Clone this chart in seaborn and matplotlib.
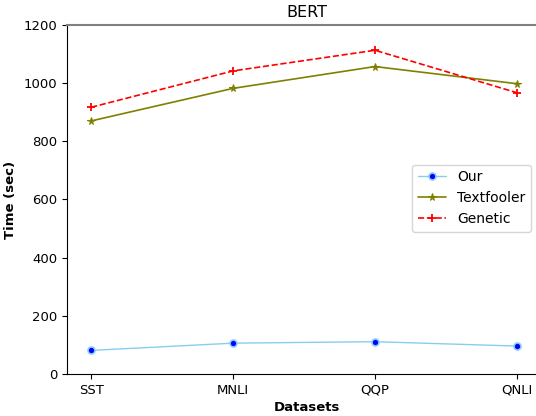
import pandas as pd
import matplotlib.pyplot as plt
import seaborn as sns

datasets = ['SST', 'MNLI', 'QQP', 'QNLI']
our = [81, 106, 111, 96]
textfooler = [870, 982, 1057, 998]
genetic = [917, 1042, 1113, 967]

sns.set_style('ticks', {'text.color': 'black', 'axes.labelcolor': 'black',
                        'xtick.color': 'black', 'ytick.color': 'black'})
plt.rcParams['font.family'] = ['DejaVu Sans']

fig = plt.figure(figsize=(5.36, 4.16), dpi=100)
ax = fig.add_axes([0.125, 0.101, 0.895, 0.839])

x = list(range(len(datasets)))
sns.lineplot(x=x, y=our, ax=ax, color='skyblue', marker='o', markersize=5,
             markerfacecolor='blue', markeredgecolor='lightskyblue',
             markeredgewidth=1.2, linewidth=1.0, label='Our')
sns.lineplot(x=x, y=textfooler, ax=ax, color='olive', marker='*', markersize=5.5,
             markeredgecolor='olive', linewidth=1.2, label='Textfooler')
sns.lineplot(x=x, y=genetic, ax=ax, color='red', marker='+', markersize=6,
             markeredgecolor='red', markeredgewidth=1.3,
             linestyle='--', linewidth=1.2, label='Genetic')

ax.set_xticks(x)
ax.set_xticklabels(datasets)
ax.set_xlim(-0.17, 3.21)
ax.set_ylim(0, 1200)
ax.set_yticks(range(0, 1201, 200))
ax.set_title('BERT', fontsize=11.5)
ax.set_xlabel('Datasets', fontweight='bold', fontsize=9.5, labelpad=3)
ax.set_ylabel('Time (sec)', fontweight='bold', fontsize=9.5, labelpad=5)
ax.tick_params(labelsize=9.5, color='black')
for s in ['left', 'bottom']:
    ax.spines[s].set_color('black')
ax.spines['top'].set_color('gray')
ax.spines['top'].set_linewidth(1.5)
ax.spines['right'].set_visible(False)

ax.legend(loc='center right', bbox_to_anchor=(0.99, 0.524),
          bbox_transform=fig.transFigure, borderaxespad=0, fontsize=10)

fig.savefig('out.png', dpi=100)
